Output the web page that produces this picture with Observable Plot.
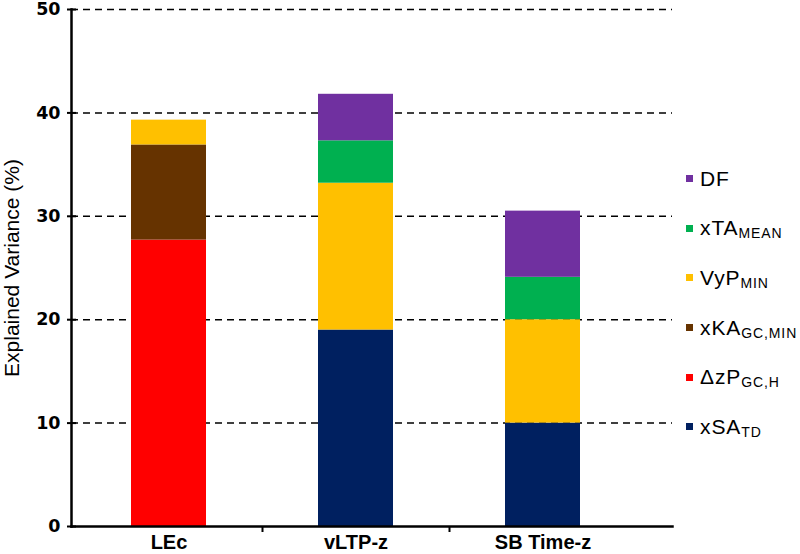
<!DOCTYPE html>
<html><head><meta charset="utf-8">
<script src="https://cdn.jsdelivr.net/npm/d3@7"></script>
<script src="https://cdn.jsdelivr.net/npm/@observablehq/plot@0.6"></script>
<style>
body{margin:0;background:#fff;font-family:"Liberation Sans",Arial,sans-serif;}
#wrap{position:relative;width:800px;height:554px;}
#legend{position:absolute;left:686px;top:154px;}
.item{display:flex;align-items:center;height:49.6px;font-size:21px;letter-spacing:0.9px;color:#000;white-space:nowrap;}
.sw{width:7px;height:7px;margin-right:7px;flex:none;}
.sub{font-size:14px;position:relative;top:5px;}
</style></head><body><div id="wrap"><div id="legend"></div></div>
<script>
const categories = ["LEc", "vLTP-z", "SB Time-z"];
const seriesNames = ["xSA_TD", "ΔzP_GC,H", "xKA_GC,MIN", "VyP_MIN", "xTA_MEAN", "DF"];
const seriesBase = ["xSA", "ΔzP", "xKA", "VyP", "xTA", "DF"];
const seriesSub = ["TD", "GC,H", "GC,MIN", "MIN", "MEAN", ""];
const seriesColors = ["#002060", "#FF0000", "#663300", "#FFC000", "#00B050", "#7030A0"];
const lecValues = [0, 27.7, 9.2, 2.4, 0, 0];
const vltpValues = [19.0, 0, 0, 14.2, 4.1, 4.5];
const sbValues = [10.0, 0, 0, 10.0, 4.1, 6.4];
const yTicks = [0, 10, 20, 30, 40, 50];
const gridTicks = [10, 20, 30, 40, 50];
const yLabel = "Explained Variance (%)";

const valuesByCategory = [lecValues, vltpValues, sbValues];
const table = [];
categories.forEach((c, ci) => {
  seriesNames.forEach((s, si) => {
    const v = valuesByCategory[ci][si];
    if (v > 0) table.push({category: c, series: s, value: v});
  });
});

const chart = Plot.plot({
  width: 800, height: 554,
  marginLeft: 71, marginRight: 128, marginTop: 9, marginBottom: 28,
  style: {fontFamily: "'Liberation Sans', Arial, sans-serif", background: "#fff", color: "#000"},
  x: {domain: categories, range: [75, 636], paddingInner: 0.6, paddingOuter: 0.3, label: null},
  y: {domain: [0, 50], label: null},
  color: {domain: seriesNames, range: seriesColors},
  marks: [
    Plot.ruleY(gridTicks, {stroke: "#000", strokeWidth: 1.5, strokeDasharray: "7,5"}),
    Plot.barY(table, {x: "category", y: "value", fill: "series"}),
    Plot.axisY({ticks: yTicks, tickSize: 4, tickPadding: 7, fontSize: 17.5, fontWeight: "bold", fontFamily: "'DejaVu Sans', sans-serif", label: null, strokeWidth: 2}),
    Plot.tickY(yTicks, {stroke: "#000", strokeWidth: 2, insetRight: 596}),
    Plot.axisX({ticks: categories.slice(0, 2), tickSize: 6, dx: 93.5, tickFormat: () => "", label: null, strokeWidth: 2}),
    Plot.axisX({tickSize: 0, tickPadding: 8, fontSize: 20, fontWeight: "bold", label: null}),
    Plot.frame({anchor: "left", strokeWidth: 2.5}),
    Plot.frame({anchor: "bottom", strokeWidth: 2.5}),
    Plot.text([yLabel], {text: d => d, frameAnchor: "left", textAnchor: "middle", rotate: -90, dx: -59, fontSize: 21})
  ]
});
document.getElementById("wrap").prepend(chart);

const legend = document.getElementById("legend");
for (let i = seriesNames.length - 1; i >= 0; i--) {
  const item = document.createElement("div");
  item.className = "item";
  const sw = document.createElement("span");
  sw.className = "sw";
  sw.style.background = seriesColors[i];
  item.appendChild(sw);
  const base = document.createElement("span");
  base.textContent = seriesBase[i];
  item.appendChild(base);
  if (seriesSub[i]) {
    const sub = document.createElement("span");
    sub.className = "sub";
    sub.textContent = seriesSub[i];
    item.appendChild(sub);
  }
  legend.appendChild(item);
}
</script></body></html>
